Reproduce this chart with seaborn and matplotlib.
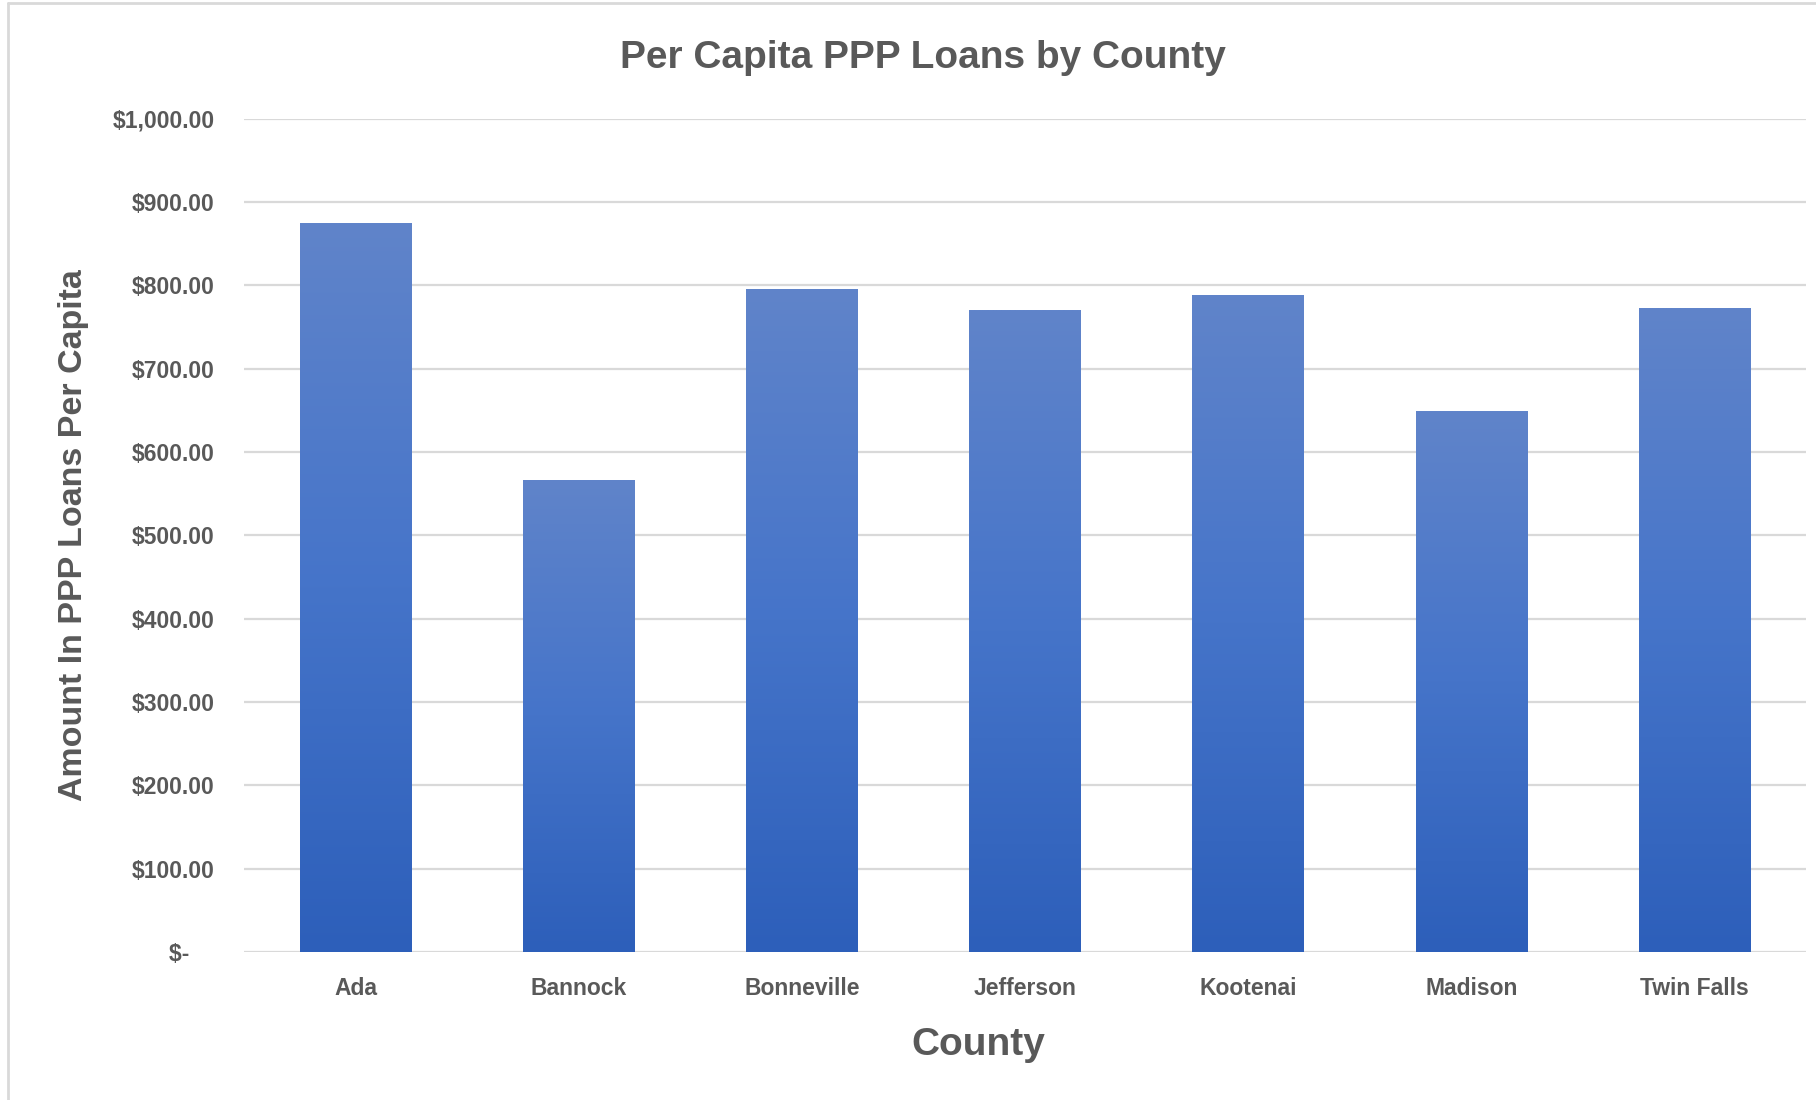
import matplotlib
matplotlib.use("Agg")
import matplotlib.pyplot as plt
import matplotlib.patheffects as pe
from matplotlib.colors import LinearSegmentedColormap
import numpy as np
import pandas as pd
import seaborn as sns

counties = ["Ada", "Bannock", "Bonneville", "Jefferson", "Kootenai", "Madison", "Twin Falls"]
per_capita = [874.5, 567.0, 796.0, 770.0, 788.5, 649.0, 772.5]
y_ticks = [0, 100, 200, 300, 400, 500, 600, 700, 800, 900, 1000]
y_tick_labels = ["$-    ", "$100.00", "$200.00", "$300.00", "$400.00", "$500.00",
                 "$600.00", "$700.00", "$800.00", "$900.00", "$1,000.00"]

df = pd.DataFrame({"County": counties, "Amount": per_capita})

sns.set_theme(style="white")
FONT = ["Liberation Sans", "DejaVu Sans"]
plt.rcParams["font.family"] = FONT
TXT = "#595959"

fig = plt.figure(figsize=(18.16, 11.0), dpi=100)
ax = fig.add_axes([0.1344, 0.1345, 0.9945 - 0.1344, 0.892 - 0.1345])

sns.barplot(data=df, x="County", y="Amount", color="#4472c4", width=0.5,
            saturation=1, ax=ax, zorder=3)

cmap = LinearSegmentedColormap.from_list("xl", ["#2d5fba", "#4574c9", "#6084ca"])
grad = np.linspace(0, 1, 256).reshape(-1, 1)
for p in ax.patches:
    x0, y0 = p.get_x(), p.get_y()
    w, h = p.get_width(), p.get_height()
    p.set_edgecolor("none")
    p.set_path_effects([pe.SimplePatchShadow(offset=(0, -1), shadow_rgbFace="#000000", alpha=0.18),
                        pe.Normal()])
    im = ax.imshow(grad, extent=[x0, x0 + w, y0, y0 + h], origin="lower",
                   cmap=cmap, aspect="auto", zorder=4, interpolation="bilinear")
    im.set_clip_path(p)

ax.set_xlim(-0.5, len(counties) - 0.5)
ax.set_ylim(0, 1000)
ax.set_yticks(y_ticks)
ax.set_yticklabels(y_tick_labels)
ax.yaxis.grid(True, color="#d9d9d9", linewidth=1.6, zorder=0)
ax.xaxis.grid(False)
for s in ax.spines.values():
    s.set_visible(False)
ax.tick_params(axis="both", length=0)
ax.tick_params(axis="y", pad=21, labelsize=16.5, labelcolor=TXT)
ax.tick_params(axis="x", pad=18, labelsize=16.5, labelcolor=TXT)
for t in ax.get_yticklabels() + ax.get_xticklabels():
    t.set_fontweight("bold")
    t.set_family(FONT)

ax.set_xlabel("County", fontsize=28, fontweight="bold", color=TXT, family=FONT)
ax.xaxis.set_label_coords(0.470, -0.090)
ax.set_ylabel("Amount In PPP Loans Per Capita", fontsize=24.5, fontweight="bold",
              color=TXT, family=FONT)
ax.yaxis.set_label_coords(-0.099, 0.5)

fig.text(0.508, 0.9475, "Per Capita PPP Loans by County", ha="center", va="center",
         fontsize=28, fontweight="bold", color=TXT, family=FONT)

# chart-area border (top and left edges visible)
fig.add_artist(plt.Line2D([8 / 1816, 8 / 1816], [0, 1 - 3 / 1100], transform=fig.transFigure,
                          color="#d9d9d9", linewidth=2))
fig.add_artist(plt.Line2D([8 / 1816, 1], [1 - 3 / 1100, 1 - 3 / 1100], transform=fig.transFigure,
                          color="#d9d9d9", linewidth=2))

fig.savefig("out.png", dpi=100, facecolor="white")
